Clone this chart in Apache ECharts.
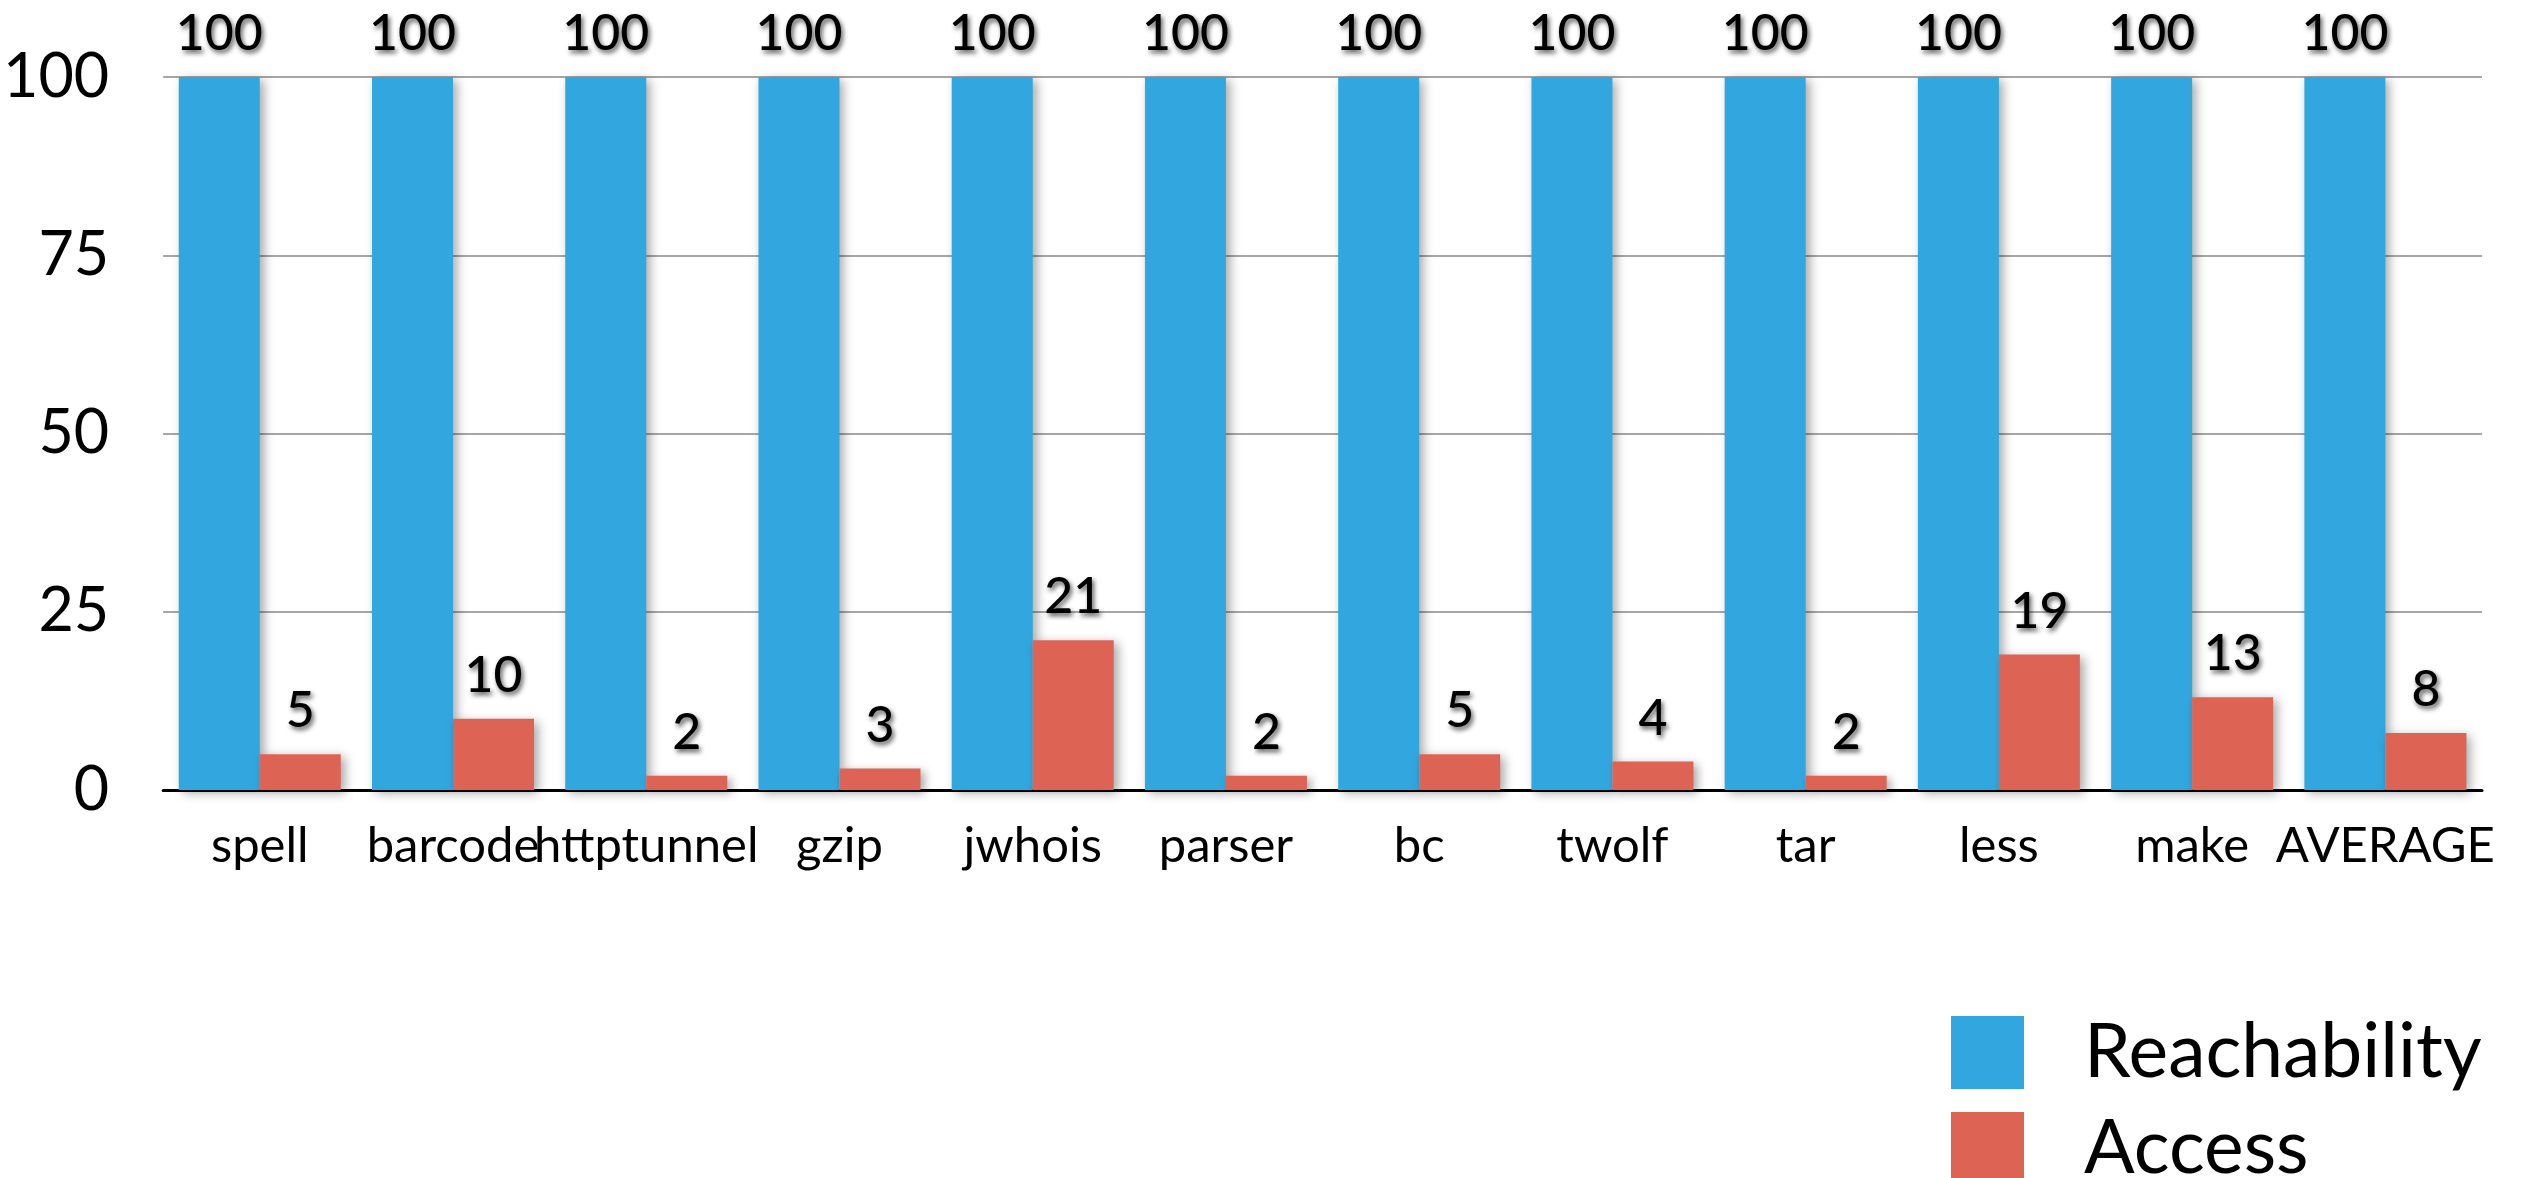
<!DOCTYPE html>
<html>
<head>
<meta charset="utf-8">
<script src="https://cdn.jsdelivr.net/npm/echarts@6/dist/echarts.min.js"></script>
<style>
html,body{margin:0;padding:0;background:#fff;}
#chart{width:2523px;height:1178px;}
</style>
</head>
<body>
<div id="chart"></div>
<script>
const categories = ['spell','barcode','httptunnel','gzip','jwhois','parser','bc','twolf','tar','less','make','AVERAGE'];
const reachability = [100,100,100,100,100,100,100,100,100,100,100,100];
const access = [5,10,2,3,21,2,5,4,2,19,13,8];
const yTicks = [0,25,50,75,100];

const FONT = 'Lato, "Open Sans", sans-serif';
const labelStyle = {
  show: true,
  position: 'top',
  distance: 18,
  color: '#000',
  fontFamily: FONT,
  fontSize: 50,
  fontWeight: 500,
  textShadowColor: 'rgba(0,0,0,0.65)',
  textShadowBlur: 5,
  textShadowOffsetX: 2,
  textShadowOffsetY: 3
};

const chart = echarts.init(document.getElementById('chart'));
chart.setOption({
  animation: false,
  backgroundColor: '#fff',
  grid: {left: 160, right: 41, top: 77, bottom: 388, containLabel: false},
  legend: {
    orient: 'vertical',
    left: 1951,
    top: 1015,
    height: 300,
    padding: 0,
    itemWidth: 73,
    itemHeight: 73,
    itemGap: 21,
    icon: 'rect',
    textStyle: {fontFamily: FONT, fontSize: 75, color: '#000', padding: [0,0,0,55]},
    data: ['Reachability','Access']
  },
  xAxis: {
    type: 'category',
    data: categories,
    axisLine: {show: true, lineStyle: {color: '#000', width: 3}},
    axisTick: {show: false},
    axisLabel: {color: '#000', fontFamily: FONT, fontSize: 49, margin: 32, interval: 0}
  },
  yAxis: {
    type: 'value',
    min: yTicks[0],
    max: yTicks[yTicks.length-1],
    interval: 25,
    axisLine: {show: false},
    axisTick: {show: false},
    axisLabel: {color: '#000', fontFamily: FONT, fontSize: 61, margin: 54},
    splitLine: {show: true, lineStyle: {color: '#a6a6a6', width: 2}}
  },
  series: [
    {
      name: 'Reachability',
      type: 'bar',
      data: reachability,
      barWidth: 81,
      barGap: '0%',
      itemStyle: {color: '#32a7df', shadowColor: 'rgba(0,0,0,0.35)', shadowBlur: 10, shadowOffsetX: 4, shadowOffsetY: 3},
      label: labelStyle
    },
    {
      name: 'Access',
      type: 'bar',
      data: access,
      barWidth: 81,
      barGap: '0%',
      itemStyle: {color: '#dd6454', shadowColor: 'rgba(0,0,0,0.35)', shadowBlur: 10, shadowOffsetX: 4, shadowOffsetY: 3},
      label: labelStyle
    }
  ]
});
</script>
</body>
</html>
